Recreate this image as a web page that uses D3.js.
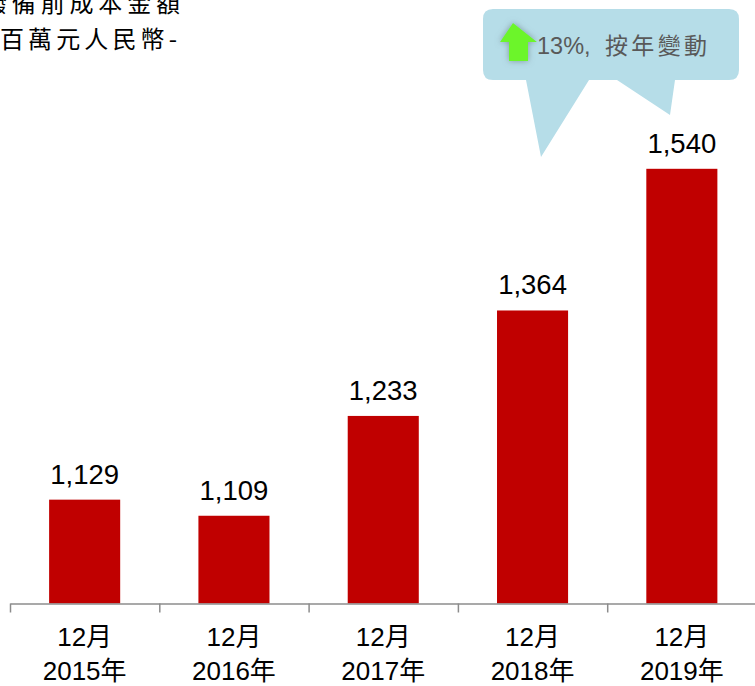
<!DOCTYPE html>
<html>
<head>
<meta charset="utf-8">
<script src="https://cdn.jsdelivr.net/npm/d3@7"></script>
<style>
  html, body { margin: 0; padding: 0; background: #fff; }
  svg { display: block; }
</style>
</head>
<body>
<svg id="chart" width="755" height="686"></svg>
<script>
// Pre-provision operating profit, RMB million, as at December of each year
const years = ["2015", "2016", "2017", "2018", "2019"];
const monthLabels = ["12月", "12月", "12月", "12月", "12月"];
const yearLabels = ["2015年", "2016年", "2017年", "2018年", "2019年"];
const values = [1129, 1109, 1233, 1364, 1540];
const titleLines = ["撥備前成本金額", "百萬元人民幣-"];
const changeWords = "按年變動";

const svg = d3.select("#chart");
const baseY = 603.5;

const x = d3.scaleBand()
  .domain(years)
  .range([10, 756.5])
  .paddingInner(0.524)
  .paddingOuter(0.262);

const slot = d3.scaleLinear().domain([0, years.length]).range([10, 756.5]);

const y = d3.scaleLinear().domain([1000, 1700]).range([baseY, baseY - 700 * 0.805]);

// Bars
svg.append("g").selectAll("rect")
  .data(values)
  .join("rect")
  .attr("x", (d, i) => x(years[i]))
  .attr("y", d => y(d))
  .attr("width", x.bandwidth())
  .attr("height", d => baseY - y(d))
  .attr("fill", "#c00000");

// Value labels
svg.append("g").selectAll("text")
  .data(values)
  .join("text")
  .attr("x", (d, i) => x(years[i]) + x.bandwidth() / 2)
  .attr("y", d => y(d) - 16)
  .attr("text-anchor", "middle")
  .attr("font-family", "Liberation Sans, Arial, sans-serif")
  .attr("font-size", 27.5)
  .attr("fill", "#000")
  .text(d => d3.format(",")(d));

// Axis with ticks on category boundaries
const axisG = svg.append("g")
  .attr("transform", `translate(0,${baseY})`)
  .call(d3.axisBottom(slot)
    .tickValues(d3.range(years.length + 1))
    .tickFormat("")
    .tickSizeOuter(0)
    .tickSizeInner(9));
axisG.select(".domain").attr("stroke", "#8c8c8c").attr("stroke-width", 1.5);
axisG.selectAll(".tick line").attr("stroke", "#8c8c8c").attr("stroke-width", 1.5);

// Category labels
const catG = svg.append("g")
  .attr("font-family", "Liberation Sans, Arial, 'Noto Sans CJK TC', sans-serif")
  .attr("font-size", 26)
  .attr("fill", "#000")
  .attr("text-anchor", "middle");
catG.selectAll("text.m")
  .data(years)
  .join("text")
  .attr("class", "m")
  .attr("x", d => x(d) + x.bandwidth() / 2)
  .attr("y", 646)
  .text((d, i) => monthLabels[i]);
catG.selectAll("text.yr")
  .data(years)
  .join("text")
  .attr("class", "yr")
  .attr("x", d => x(d) + x.bandwidth() / 2)
  .attr("y", 680)
  .text((d, i) => yearLabels[i]);

// Unit title, top left
const titleG = svg.append("g")
  .attr("font-family", "'Noto Sans CJK TC', sans-serif")
  .attr("font-size", 24)
  .attr("fill", "#000");
titleG.append("text").attr("x", -17).attr("y", 12)
  .attr("textLength", 197).attr("lengthAdjust", "spacing")
  .text(titleLines[0]);
titleG.append("text").attr("x", 0).attr("y", 48)
  .attr("textLength", 177).attr("lengthAdjust", "spacing")
  .text(titleLines[1]);

// Year-on-year change callout
const defs = svg.append("defs");
const f = defs.append("filter").attr("id", "glow")
  .attr("x", "-50%").attr("y", "-50%").attr("width", "200%").attr("height", "200%");
f.append("feGaussianBlur").attr("in", "SourceAlpha").attr("stdDeviation", 3).attr("result", "b");
f.append("feFlood").attr("flood-color", "#6a7a80").attr("flood-opacity", 0.7).attr("result", "c");
f.append("feComposite").attr("in", "c").attr("in2", "b").attr("operator", "in").attr("result", "s");
const fm = f.append("feMerge");
fm.append("feMergeNode").attr("in", "s");
fm.append("feMergeNode").attr("in", "SourceGraphic");

const bubble = d3.path();
bubble.moveTo(493, 9);
bubble.lineTo(729, 9);
bubble.quadraticCurveTo(739, 9, 739, 19);
bubble.lineTo(739, 70);
bubble.quadraticCurveTo(739, 80, 729, 80);
bubble.lineTo(675, 80);
bubble.lineTo(670, 115);
bubble.lineTo(617, 80);
bubble.lineTo(589, 80);
bubble.lineTo(541, 157);
bubble.lineTo(526, 80);
bubble.lineTo(493, 80);
bubble.quadraticCurveTo(483, 80, 483, 70);
bubble.lineTo(483, 19);
bubble.quadraticCurveTo(483, 9, 493, 9);
bubble.closePath();
svg.append("path").attr("d", bubble.toString()).attr("fill", "#b6dde8");

svg.append("path")
  .attr("d", "M513,23 L537,42 L528,42 L528,61 L509,61 L509,42 L500,42 Z")
  .attr("fill", "#6cf52a")
  .attr("filter", "url(#glow)");

const pct = Math.round((values[4] - values[3]) / values[3] * 100);
svg.append("text")
  .attr("x", 537)
  .attr("y", 54)
  .attr("font-family", "Liberation Sans, Arial, sans-serif")
  .attr("font-size", 23.5)
  .attr("fill", "#595959")
  .text(pct + "%,");
svg.append("text")
  .attr("x", 605)
  .attr("y", 54)
  .attr("font-family", "'Noto Sans CJK TC', sans-serif")
  .attr("font-size", 23)
  .attr("fill", "#595959")
  .attr("textLength", 102)
  .attr("lengthAdjust", "spacing")
  .text(changeWords);
</script>
</body>
</html>
